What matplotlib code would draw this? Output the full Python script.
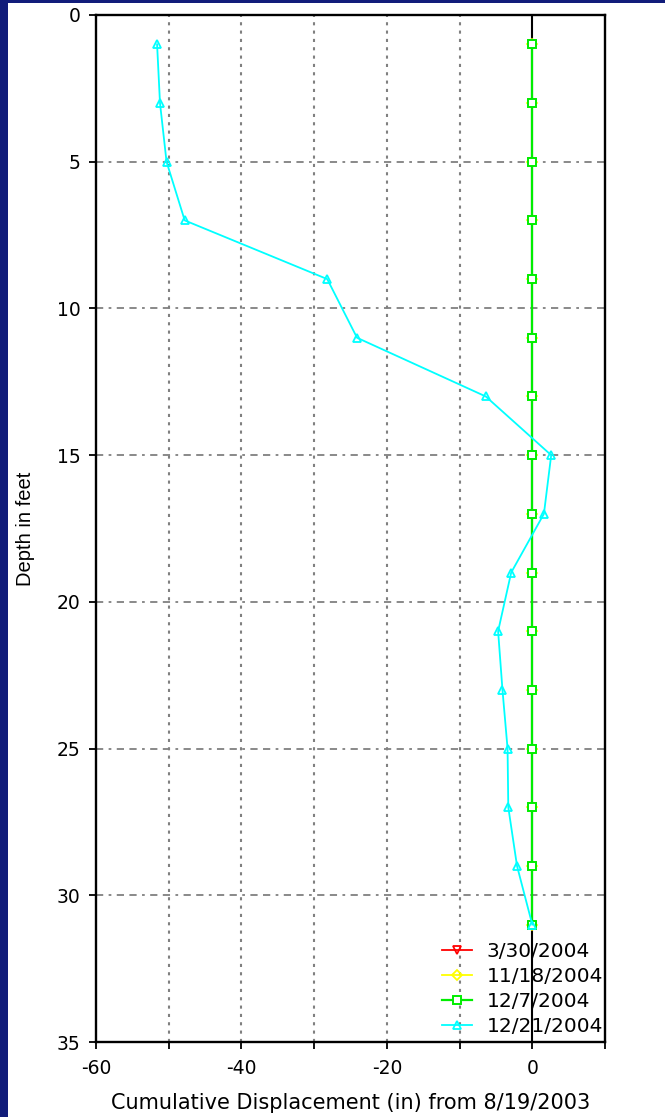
import matplotlib
matplotlib.use("Agg")
import matplotlib.pyplot as plt
from matplotlib.patches import Rectangle

depths = [1, 3, 5, 7, 9, 11, 13, 15, 17, 19, 21, 23, 25, 27, 29, 31]
disp_0330 = [0, 0, 0, 0, 0, 0, 0, 0, 0, 0, 0, 0, 0, 0, 0, 0]
disp_1118 = [0, 0, 0, 0, 0, 0, 0, 0, 0, 0, 0, 0, 0, 0, 0, 0]
disp_1207 = [0, 0, 0, 0, 0, 0, 0, 0, 0, 0, 0, 0, 0, 0, 0, 0]
disp_1221 = [-51.6, -51.2, -50.3, -47.8, -28.2, -24.1, -6.4, 2.6, 1.6,
             -2.9, -4.7, -4.1, -3.4, -3.3, -2.1, 0.0]
series_labels = ["3/30/2004", "11/18/2004", "12/7/2004", "12/21/2004"]
x_ticks = [-60, -40, -20, 0]
y_ticks = [0, 5, 10, 15, 20, 25, 30, 35]

plt.rcParams['font.family'] = ['DejaVu Sans']
plt.rcParams['axes.unicode_minus'] = False

W, H = 665, 1117
fig = plt.figure(figsize=(W / 100, H / 100), dpi=100)
fig.patch.set_facecolor('#111c7a')
fig.add_artist(Rectangle((8 / W, 0), 1, 1 - 3 / H, transform=fig.transFigure,
                         facecolor='white', edgecolor='none', zorder=-10))

ax = fig.add_axes([96 / W, 1 - 1042 / H, (605 - 96) / W, (1042 - 15) / H])
ax.set_xlim(-60, 10)
ax.set_ylim(35, 0)

# grid
for gx in [-50, -40, -30, -20, -10]:
    ax.axvline(gx, color='#808080', linestyle=(0, (1.5, 2.5)), linewidth=1.5, zorder=1)
for gy in [5, 10, 15, 20, 25, 30]:
    ax.axhline(gy, color='#808080', linestyle=(0, (4, 3, 1.5, 3, 4, 3)), linewidth=1.3, zorder=1)
ax.axvline(0, color='black', linewidth=1.5, zorder=2)

ax.plot(disp_0330, depths, color='red', marker='v', markersize=6, mfc='none',
        mew=1.3, linewidth=1.3, label=series_labels[0], zorder=3)
ax.plot(disp_1118, depths, color='#ffff00', marker='D', markersize=5, mfc='none',
        mew=1.3, linewidth=1.3, label=series_labels[1], zorder=3)
ax.plot(disp_1207, depths, color='#00ee00', marker='s', markersize=6, mfc='white',
        mew=1.4, linewidth=1.6, label=series_labels[2], zorder=4)
ax.plot(disp_1221, depths, color='cyan', marker='^', markersize=6, mfc='none',
        mew=1.3, linewidth=1.3, label=series_labels[3], zorder=5)

ax.set_xticks(x_ticks)
ax.set_xticks([-50, -30, -10, 10], minor=True)
ax.set_yticks(y_ticks)
ax.tick_params(axis='both', which='both', direction='out', length=5, width=1.3,
               labelsize=13.5, colors='black')
ax.tick_params(axis='y', pad=6)
ax.tick_params(axis='x', pad=7)
for s in ax.spines.values():
    s.set_linewidth(1.7)

ax.set_xlabel('Cumulative Displacement (in) from 8/19/2003', fontsize=15, labelpad=11)
ax.set_ylabel('Depth in feet', fontsize=14.5, labelpad=16, fontstretch='condensed',
              family=['Liberation Sans Narrow', 'Liberation Sans', 'DejaVu Sans'])

leg = ax.legend(loc='lower right', frameon=False, fontsize=14.5, handlelength=1.5,
                handletextpad=0.7, labelspacing=0.3, borderaxespad=0.0,
                bbox_to_anchor=(1.012, -0.002))

fig.savefig('out.png', dpi=100, facecolor=fig.get_facecolor())
